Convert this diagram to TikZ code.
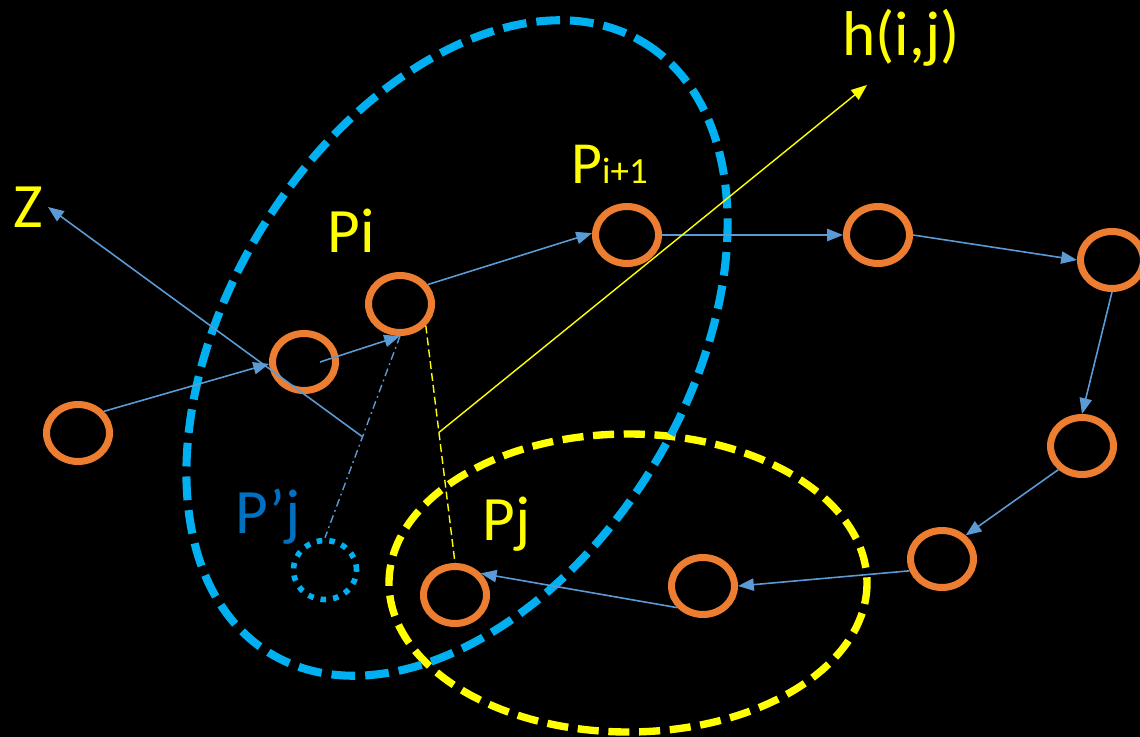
\documentclass[tikz,border=0pt]{standalone}
\usepackage{fontspec}
\setmainfont{Carlito}
\usetikzlibrary{arrows.meta,calc,shapes.geometric}

\definecolor{ptorange}{RGB}{237,125,49}
\definecolor{linkblue}{RGB}{91,155,213}
\definecolor{ringcyan}{RGB}{0,176,240}
\definecolor{labelblue}{RGB}{0,112,192}
\definecolor{hyellow}{RGB}{255,255,0}

\tikzset{
  ptnode/.style={draw=ptorange, line width=4pt, ellipse, inner sep=0pt,
    minimum width=1.26cm, minimum height=1.14cm},
  link/.style={draw=linkblue, line width=0.9pt, -{Triangle[length=9pt,width=7pt]}},
  lab/.style={text=hyellow, font=\fontsize{36}{40}\selectfont, inner sep=0pt, anchor=base west},
}

\begin{document}
\begin{tikzpicture}[x=0.02cm, y=-0.02cm]
        \fill[black, use as bounding box] (0,0) rectangle (1140,737);

        % neighbourhoods
        \draw[hyellow, line width=4.2pt, dash pattern=on 12pt off 5.5pt] (628,583) ellipse [x radius=239, y radius=149];
        \draw[ringcyan, line width=4.6pt, dash pattern=on 13.5pt off 5.7pt, rotate around={58.4:(457,348)}] (457,348) ellipse [x radius=358, y radius=229];

        % points of the path
        \node[ptnode] (A) at (78,433) {};
        \node[ptnode] (B) at (304,362) {};
        \node[ptnode] (Pi) at (400,304) {};
        \node[ptnode] (Pi1) at (627,235) {};
        \node[ptnode] (C) at (878,235) {};
        \node[ptnode] (D) at (1112,260) {};
        \node[ptnode] (E) at (1082,446) {};
        \node[ptnode] (F) at (942,559) {};
        \node[ptnode] (G) at (703,586) {};
        \node[ptnode] (Pj) at (455,595) {};
        \node[ptnode, draw=ringcyan, line width=3.2pt, dash pattern=on 3.2pt off 4pt, minimum height=1.18cm] (Pjp) at (325,570) {};

        \draw[link] (A.40) -- (B.183);
        \draw[link] ($(B.center)+(16,0)$) -- (Pi.south);
        \draw[link] (Pi.35) -- (Pi1.177);
        \draw[link] (Pi1.east) -- (C.west);
        \draw[link] (C.east) -- (D.west);
        \draw[link] (D.south) -- (E.north);
        \draw[link] (E.225) -- (F.45);
        \draw[link] (F.200) -- (G.east);
        \draw[link] (G.220) -- (Pj.40);

        % projections
        \draw[linkblue, line width=0.8pt, dash pattern=on 4.5pt off 2.2pt on 1pt off 2.2pt] (Pi.south) -- (Pjp.north);
        \coordinate (foot) at ($(Pi.south)!0.5!(Pjp.north)$);
        \coordinate (ztip) at (48,207);
        \draw[link] (foot) -- (ztip);

        \draw[hyellow, line width=0.8pt, dash pattern=on 4.5pt off 2.3pt] (Pi.-40) -- (Pj.north);
        \coordinate (hfoot) at ($(Pi.-40)!0.45!(Pj.north)$);
        \coordinate (htip) at (867,85);
        \draw[hyellow, line width=0.8pt, -{Triangle[length=9pt,width=7pt]}] (hfoot) -- (htip);

        % labels
        \node[lab] (Zlab) at (13,227) {Z};
        \node[lab] (Pilab) at (327,252) {Pi};
        \node[lab, font=\fontsize{34}{38}\selectfont] (Pi1lab) at (571,183) {P{\fontsize{21}{24}\selectfont i+1}};
        \node[lab] (hlab) at (842,55) {h(i,j)};
        \node[lab] (Pjlab) at (482,540) {Pj};
        \node[lab, text=labelblue] (Pjplab) at (235,533) {P’j};
\end{tikzpicture}
\end{document}
